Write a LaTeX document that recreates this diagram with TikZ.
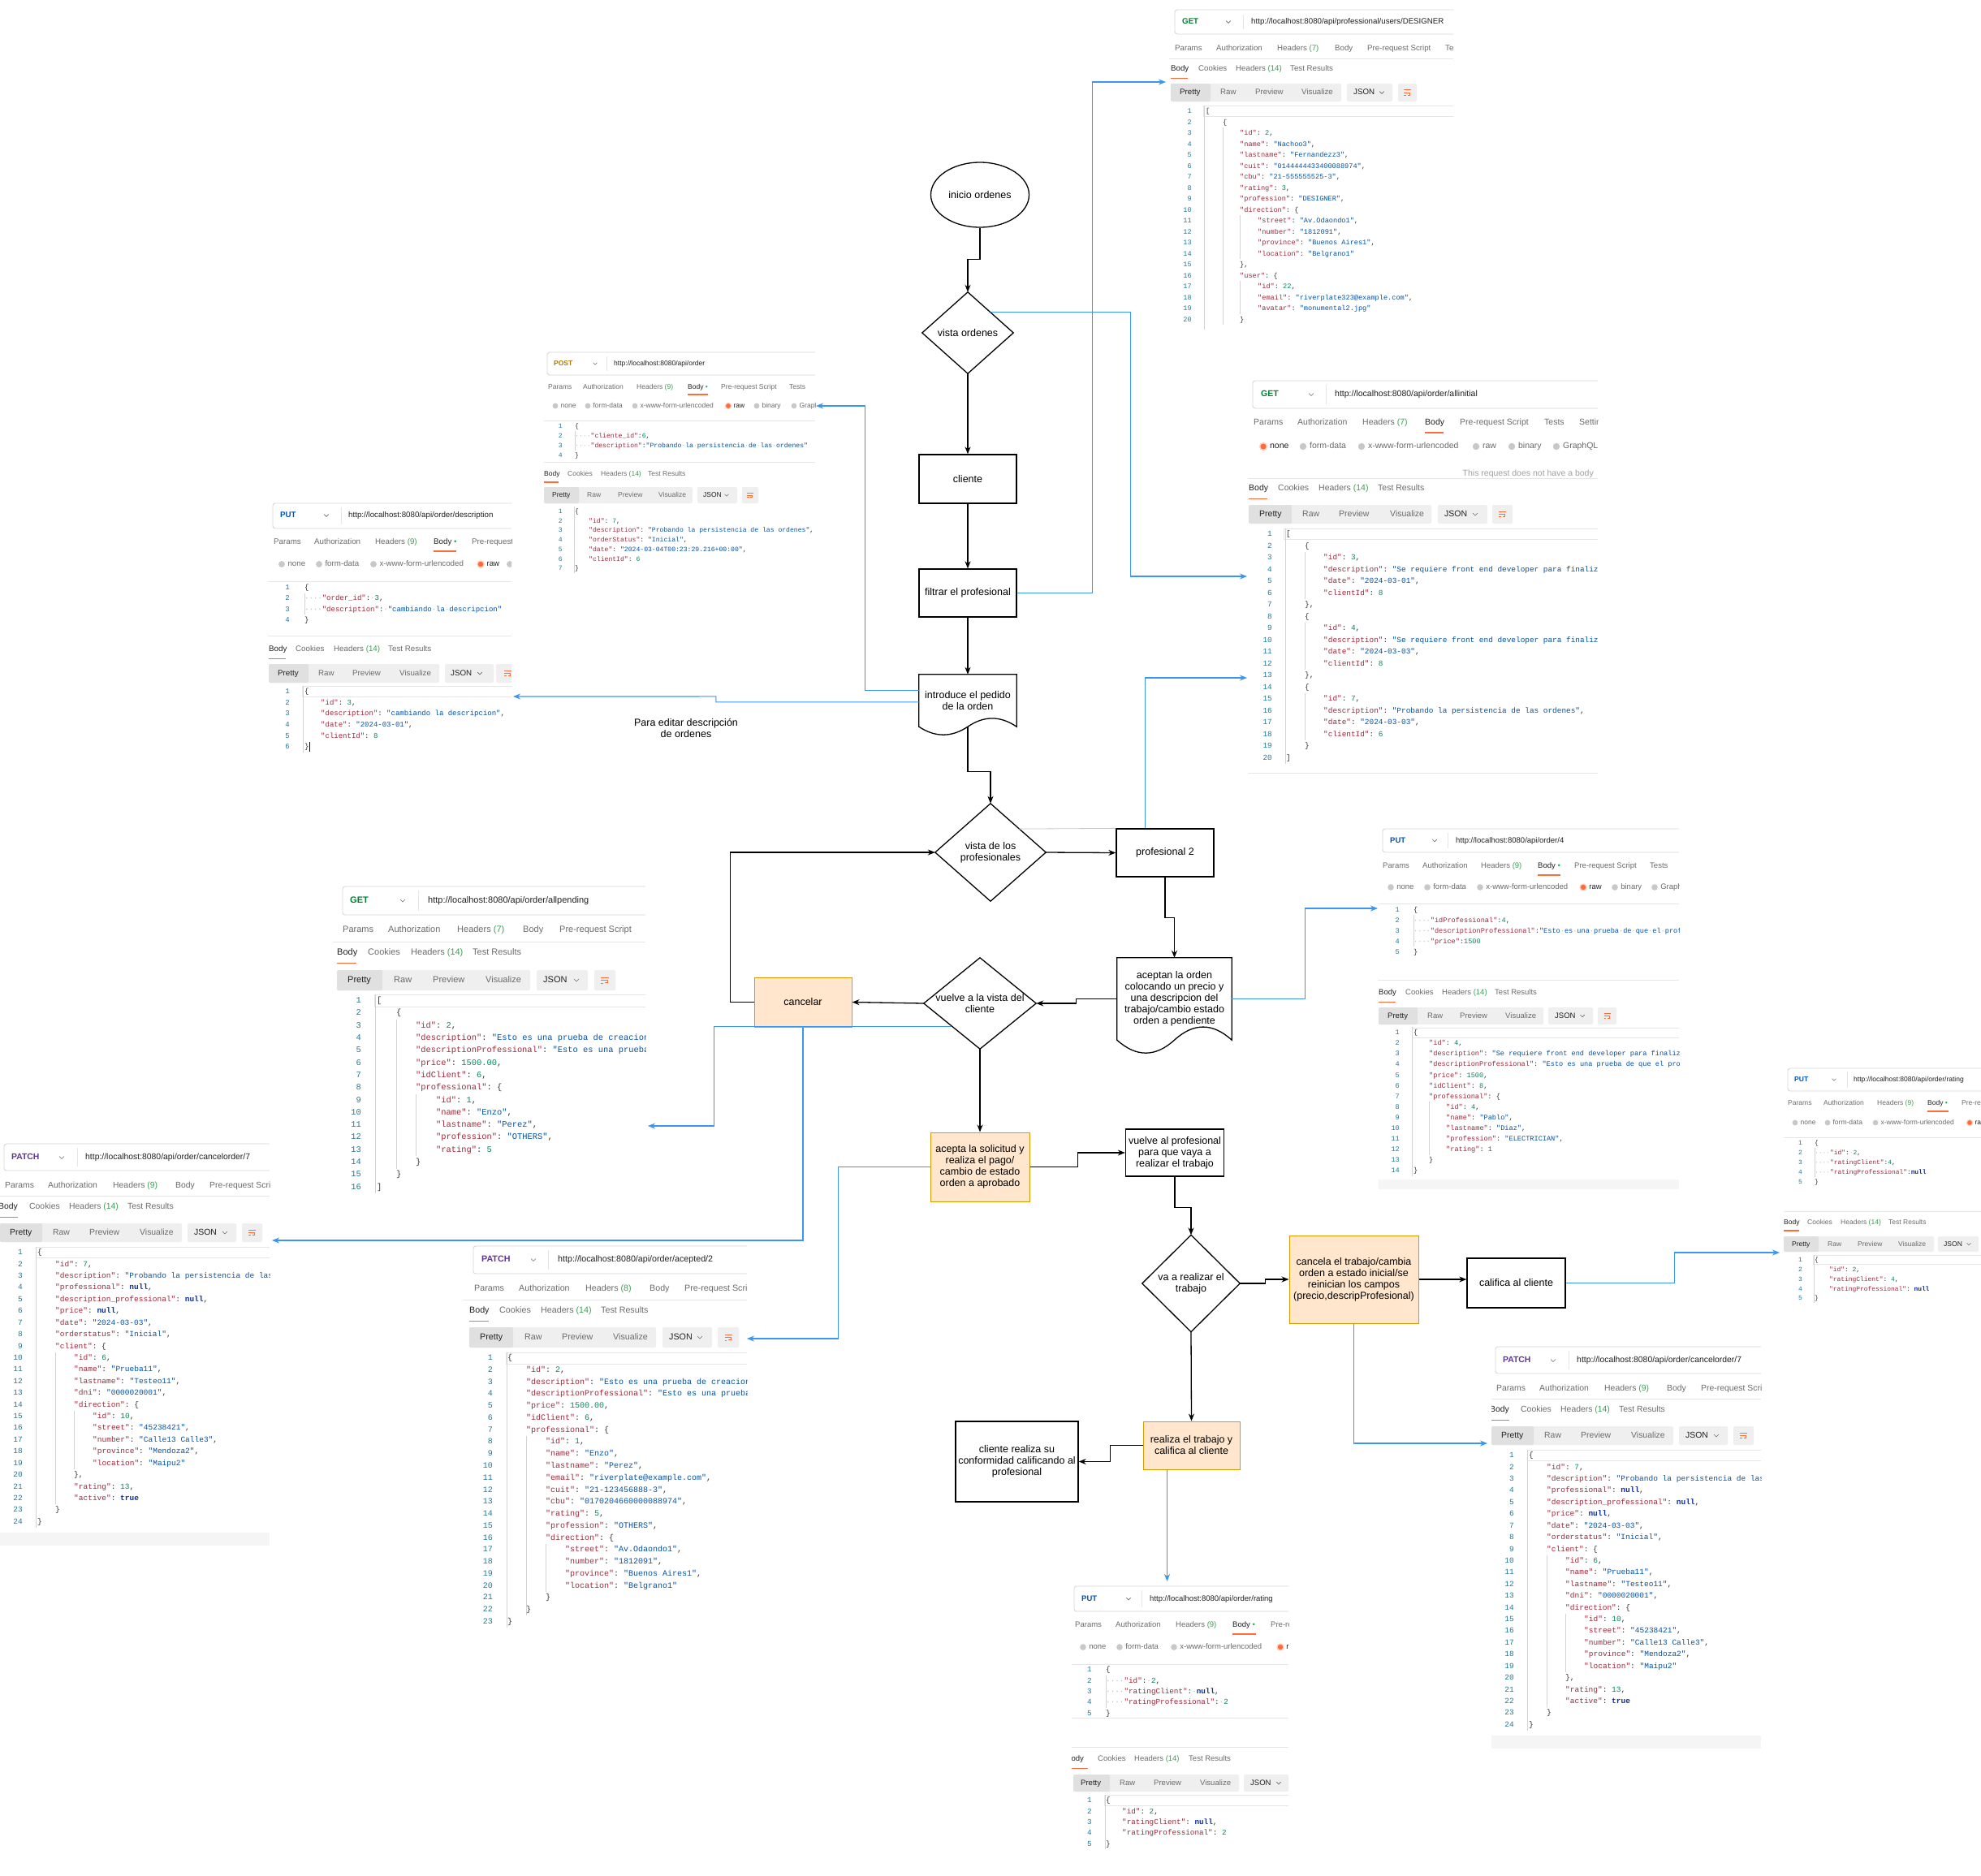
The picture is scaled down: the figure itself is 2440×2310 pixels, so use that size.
\documentclass[tikz,border=0pt]{standalone}
\usepackage{fontspec}
\setmainfont{Liberation Sans}
\setmonofont{Liberation Mono}
\usetikzlibrary{arrows.meta,calc,shapes.geometric}

% palette
\definecolor{uigray}{HTML}{6B6B6B}
\definecolor{uidark}{HTML}{212121}
\definecolor{uilight}{HTML}{A0A0A0}
\definecolor{orangec}{HTML}{FF6C37}
\definecolor{getc}{HTML}{007F31}
\definecolor{postc}{HTML}{AD7A03}
\definecolor{putc}{HTML}{0053B8}
\definecolor{patchc}{HTML}{623497}
\definecolor{ckey}{HTML}{9C2A3C}
\definecolor{cstr}{HTML}{0451A5}
\definecolor{cnum}{HTML}{098658}
\definecolor{cbool}{HTML}{0F2E9C}
\definecolor{lncol}{HTML}{237893}
\definecolor{cpunct}{HTML}{333333}
\definecolor{cdot}{HTML}{B8B8B8}
\definecolor{hcount}{HTML}{3E9E57}
\definecolor{bdotc}{HTML}{0CBB52}
\definecolor{tbbg}{HTML}{EFEFEF}
\definecolor{tbsel}{HTML}{E0E0E0}
\definecolor{urlline}{HTML}{D6D6D6}
\definecolor{sepcol}{HTML}{E6E6E6}
\definecolor{guidec}{HTML}{D3D3D3}
\definecolor{radiog}{HTML}{C8C8C8}
\definecolor{bandc}{HTML}{F5F5F5}
\definecolor{ofill}{HTML}{FFE6CC}
\definecolor{oline}{HTML}{D79B00}
\definecolor{bline}{HTML}{3A96EE}

% fonts used inside the API client panels (sizes set per panel)
\def\US{10}\def\CS{9}
\newcommand\uif{\fontsize{\US}{\US}\selectfont}
\newcommand\uifb{\fontsize{\US}{\US}\selectfont\bfseries}
\newcommand\cdf{\fontsize{\CS}{\CS}\selectfont\ttfamily}
\newcommand\fsz{\fontsize{12.5}{14}\selectfont}

% JSON token colouring
\newcommand\jk[1]{\textcolor{ckey}{"#1"}}
\newcommand\js[1]{\textcolor{cstr}{"#1"}}
\newcommand\jn[1]{\textcolor{cnum}{#1}}
\newcommand\jb[1]{\textcolor{cbool}{\bfseries #1}}
\newcommand\jd{\textcolor{cdot}{·}}
\newcommand\hcnt[1]{\textcolor{hcount}{#1}}
\newcommand\bdot{\textcolor{bdotc}{\textbullet}}

\newcount\txtno
\tikzset{
  autoname/.style={/utils/exec={\global\advance\txtno by 1}, name=tx\the\txtno},
  ui/.style={autoname, font=\uif, text=uigray, anchor=mid west, inner sep=0pt},
  uid/.style={ui, text=uidark},
  lnum/.style={autoname, font=\cdf, text=lncol, anchor=mid east, inner sep=0pt},
  cd/.style={autoname, font=\cdf, text=cpunct, anchor=mid west, inner sep=0pt},
  urlframe/.style={draw=urlline, line width=0.9, rounded corners=3, fill=white},
  sepv/.style={draw=sepcol, line width=0.9},
  sepl/.style={draw=sepcol, line width=0.8},
  orul/.style={draw=orangec, line width=1.1},
  guide/.style={draw=guidec, line width=0.6},
  hlbox/.style={draw=sepcol, line width=0.8},
  chevst/.style={draw=uigray, line width=0.6},
  fl/.style={font=\fsz, align=center, text=black, inner sep=1pt},
  fbox/.style={fl, rectangle, draw=black, line width=1.3},
  obox/.style={fl, rectangle, fill=ofill, draw=oline, line width=1.0},
  ghost/.style={fl, rectangle, draw=none, inner sep=0pt},
  fline/.style={draw=black, line width=1.3},
  farr/.style={draw=black, line width=1.3, -{Stealth[length=9pt,width=7pt]}},
  barr/.style={draw=bline, line width=1.1, -{Stealth[length=9pt,width=7pt]}},
}

% small helpers for the API client panels
\newcommand\chev[2]{\draw[chevst] ({#1-0.28*\US},{#2-0.14*\US}) -- (#1,{#2+0.14*\US}) -- ({#1+0.28*\US},{#2-0.14*\US});}
\newcommand\rad[3]{\fill[radiog] (#1,#2) circle[radius={0.4*\US}]; \node[ui] at ({#1+0.75*\US},#2) {#3};}
\newcommand\radsel[3]{\fill[orangec!30] (#1,#2) circle[radius={0.5*\US}]; \fill[orangec] (#1,#2) circle[radius={0.34*\US}]; \node[uid] at ({#1+0.75*\US},#2) {#3};}
\newcommand\wrapicon[2]{%
  \draw[orangec, line width=0.8] ({#1-0.42*\US},{#2-0.32*\US}) -- ({#1+0.42*\US},{#2-0.32*\US});
  \draw[orangec, line width=0.8] ({#1-0.42*\US},{#2}) -- ({#1+0.3*\US},{#2}) -- ({#1+0.3*\US},{#2+0.3*\US}) -- ({#1},{#2+0.3*\US});
  \draw[orangec, line width=0.8] ({#1-0.42*\US},{#2+0.32*\US}) -- ({#1-0.15*\US},{#2+0.32*\US});}
\newcommand\restabs[6]{%
  \node[uid] at (#2,#1) {Body};
  \node[ui] at (#3,#1) {Cookies};
  \node[ui] at (#4,#1) {Headers \hcnt{(14)}};
  \node[ui] at (#5,#1) {Test Results};
  \draw[orul] (#2,{#1+1.17*\US}) -- (#6,{#1+1.17*\US});}
\newcommand\toolbar[9]{%
  \fill[tbbg, rounded corners=2] (#3,#1) rectangle (#5,#2);
  \fill[tbsel, rounded corners=2] (#3,#1) rectangle (#4,#2);
  \fill[tbbg, rounded corners=2] (#6,#1) rectangle (#7,#2);
  \fill[tbbg, rounded corners=2] (#8,#1) rectangle (#9,#2);
  \wrapicon{(#8+#9)/2}{(#1+#2)/2}}
\newcommand\tbtext[7]{%
  \node[uid] at (#2,#1) {Pretty};
  \node[ui] at (#3,#1) {Raw};
  \node[ui] at (#4,#1) {Preview};
  \node[ui] at (#5,#1) {Visualize};
  \node[uid] at (#6,#1) {JSON};
  \chev{#7}{#1}}
\newcommand\codeln[3]{\node[lnum] at (\NX,{\LY+(#1-1)*\LS}) {#1}; \node[cd] at (#2,{\LY+(#1-1)*\LS}) {#3};}
\newcommand\guideln[3]{\draw[guide] (#1,{\LY+(#2-1.5)*\LS}) -- (#1,{\LY+(#3-0.5)*\LS});}
\newcommand\hlrow[3]{\draw[hlbox] (#2,{\LY+(#1-1.5)*\LS+0.5}) rectangle (#3,{\LY+(#1-0.5)*\LS-0.5});}

% the PATCH cancelorder/7 panel (used twice)
\newcommand\cancelpanel{%
  \def\US{10.4}\def\CS{9.5}
  \clip (0,1405) rectangle (332,1905);
  \draw[urlframe] (5,1409) rectangle (345,1442);
  \node[ui,font=\uifb,text=patchc] at (14,1426) {PATCH};
  \chev{76}{1426}
  \draw[sepv] (95,1414) -- (95,1437);
  \node[uid] at (105,1426) {http://localhost:8080/api/order/cancelorder/7};
  \node[ui] at (6,1461) {Params};
  \node[ui] at (59,1461) {Authorization};
  \node[ui] at (139,1461) {Headers \hcnt{(9)}};
  \node[ui] at (216,1461) {Body};
  \node[ui] at (258,1461) {Pre-request Script};
  \draw[sepl] (0,1473) -- (332,1473);
  \restabs{1487}{-2}{36}{85}{157}{22}
  \toolbar{1507}{1530}{0}{52}{224}{231}{291}{298}{323}
  \tbtext{1518.5}{12}{65}{110}{172}{239}{277}
  \def\NX{28}\def\LY{1543}\def\LS{14.42}
  \def\Xa{46}\def\Xb{68}\def\Xc{91}\def\Xd{114}
  \hlrow{1}{44}{345}
  \guideln{44}{1}{24}
  \guideln{68}{10}{22}
  \guideln{91}{15}{19}
  \codeln{1}{\Xa}{\{}
  \codeln{2}{\Xb}{\jk{id}: \jn{7},}
  \codeln{3}{\Xb}{\jk{description}: \js{Probando la persistencia de las ordenes},}
  \codeln{4}{\Xb}{\jk{professional}: \jb{null},}
  \codeln{5}{\Xb}{\jk{description\_professional}: \jb{null},}
  \codeln{6}{\Xb}{\jk{price}: \jb{null},}
  \codeln{7}{\Xb}{\jk{date}: \js{2024-03-03},}
  \codeln{8}{\Xb}{\jk{orderstatus}: \js{Inicial},}
  \codeln{9}{\Xb}{\jk{client}: \{}
  \codeln{10}{\Xc}{\jk{id}: \jn{6},}
  \codeln{11}{\Xc}{\jk{name}: \js{Prueba11},}
  \codeln{12}{\Xc}{\jk{lastname}: \js{Testeo11},}
  \codeln{13}{\Xc}{\jk{dni}: \js{0000020001},}
  \codeln{14}{\Xc}{\jk{direction}: \{}
  \codeln{15}{\Xd}{\jk{id}: \jn{10},}
  \codeln{16}{\Xd}{\jk{street}: \js{45238421},}
  \codeln{17}{\Xd}{\jk{number}: \js{Calle13 Calle3},}
  \codeln{18}{\Xd}{\jk{province}: \js{Mendoza2},}
  \codeln{19}{\Xd}{\jk{location}: \js{Maipu2}}
  \codeln{20}{\Xc}{\},}
  \codeln{21}{\Xc}{\jk{rating}: \jn{13},}
  \codeln{22}{\Xc}{\jk{active}: \jb{true}}
  \codeln{23}{\Xb}{\}}
  \codeln{24}{\Xa}{\}}
  \fill[bandc] (0,1888) rectangle (332,1904);
}

\begin{document}
\begin{tikzpicture}[x=1pt,y=-1pt]
\useasboundingbox (0,0) rectangle (2440,2310);
\fill[white] (0,0) rectangle (2440,2310);

% ---------- GET professional/users/DESIGNER ----------
\begin{scope}
\def\US{9.7}\def\CS{8.6}
\clip (1440,0) rectangle (1790,405);
\draw[urlframe] (1447,12) rectangle (1800,42);
\node[ui,font=\uifb,text=getc] at (1456,27) {GET};
\chev{1513}{27}
\draw[sepv] (1531,18) -- (1531,36);
\node[uid] at (1541,27) {http://localhost:8080/api/professional/users/DESIGNER};
\node[ui] at (1447,60) {Params};
\node[ui] at (1498,60) {Authorization};
\node[ui] at (1573,60) {Headers \hcnt{(7)}};
\node[ui] at (1644,60) {Body};
\node[ui] at (1684,60) {Pre-request Script};
\node[ui] at (1780,60) {Tests};
\draw[sepl] (1440,72) -- (1790,72);
\restabs{85}{1442}{1476}{1522}{1589}{1463}
\toolbar{103}{125}{1442}{1491}{1652}{1659}{1715}{1722}{1745}
\tbtext{114}{1453}{1503}{1546}{1603}{1667}{1702}
\def\NX{1468}\def\LY{137}\def\LS{13.5}
\def\Xa{1485}\def\Xb{1506}\def\Xc{1527}\def\Xd{1549}
\hlrow{1}{1482}{1800}
\guideln{1483}{1}{21}
\guideln{1506}{3}{20}
\guideln{1527}{11}{14}
\guideln{1527}{17}{19}
\codeln{1}{\Xa}{[}
\codeln{2}{\Xb}{\{}
\codeln{3}{\Xc}{\jk{id}: \jn{2},}
\codeln{4}{\Xc}{\jk{name}: \js{Nachoo3},}
\codeln{5}{\Xc}{\jk{lastname}: \js{Fernandezz3},}
\codeln{6}{\Xc}{\jk{cuit}: \js{0144444433400088974},}
\codeln{7}{\Xc}{\jk{cbu}: \js{21-555555525-3},}
\codeln{8}{\Xc}{\jk{rating}: \jn{3},}
\codeln{9}{\Xc}{\jk{profession}: \js{DESIGNER},}
\codeln{10}{\Xc}{\jk{direction}: \{}
\codeln{11}{\Xd}{\jk{street}: \js{Av.Odaondo1},}
\codeln{12}{\Xd}{\jk{number}: \js{1812091},}
\codeln{13}{\Xd}{\jk{province}: \js{Buenos Aires1},}
\codeln{14}{\Xd}{\jk{location}: \js{Belgrano1}}
\codeln{15}{\Xc}{\},}
\codeln{16}{\Xc}{\jk{user}: \{}
\codeln{17}{\Xd}{\jk{id}: \jn{22},}
\codeln{18}{\Xd}{\jk{email}: \js{riverplate323@example.com},}
\codeln{19}{\Xd}{\jk{avatar}: \js{monumental2.jpg}}
\codeln{20}{\Xc}{\}}
\end{scope}

% ---------- POST order ----------
\begin{scope}
\def\US{8.5}\def\CS{8.1}
\clip (665,430) rectangle (1004,712);
\draw[urlframe] (674,434) rectangle (1012,462);
\node[ui,font=\uifb,text=postc] at (682,448) {POST};
\chev{733}{448}
\draw[sepv] (747,439) -- (747,457);
\node[uid] at (756,448) {http://localhost:8080/api/order};
\node[ui] at (675,477) {Params};
\node[ui] at (718,477) {Authorization};
\node[ui] at (784,477) {Headers \hcnt{(9)}};
\node[uid] at (847,477) {Body \bdot};
\draw[orul] (847,486) -- (872,486);
\node[ui] at (888,477) {Pre-request Script};
\node[ui] at (972,477) {Tests};
\rad{684}{500}{none}
\rad{724}{500}{form-data}
\rad{782}{500}{x-www-form-urlencoded}
\radsel{897}{500}{raw}
\rad{932}{500}{binary}
\rad{978}{500}{GraphQL}
\draw[sepl] (670,518) -- (1004,518);
\def\NX{693}\def\LY{525}\def\LS{11.9}\def\Xa{708}\def\Xb{725}
\guideln{708}{2}{3}
\codeln{1}{\Xa}{\{}
\codeln{2}{\Xa}{\jd\jd\jd\jd\jk{cliente\_id}:\jn{6},}
\codeln{3}{\Xa}{\jd\jd\jd\jd\jk{description}:\js{Probando\jd la\jd persistencia\jd de\jd las\jd ordenes}}
\codeln{4}{\Xa}{\}}
\draw[sepl] (670,569) -- (1004,569);
\restabs{584}{670}{699}{740}{798}{688}
\toolbar{600}{620}{670}{713}{853}{859}{908}{914}{934}
\tbtext{610}{680}{723}{761}{811}{866}{895}
\def\LY{630}\def\LS{11.67}
\guideln{707}{1}{7}
\codeln{1}{\Xa}{\{}
\codeln{2}{\Xb}{\jk{id}: \jn{7},}
\codeln{3}{\Xb}{\jk{description}: \js{Probando la persistencia de las ordenes},}
\codeln{4}{\Xb}{\jk{orderStatus}: \js{Inicial},}
\codeln{5}{\Xb}{\jk{date}: \js{2024-03-04T00:23:29.216+00:00},}
\codeln{6}{\Xb}{\jk{clientId}: \jn{6}}
\codeln{7}{\Xa}{\}}
\end{scope}

% ---------- PUT order/description ----------
\begin{scope}
\def\US{9.75}\def\CS{9.0}
\clip (325,610) rectangle (630,930);
\draw[urlframe] (336,620) rectangle (640,651);
\node[ui,font=\uifb,text=putc] at (345,635) {PUT};
\chev{402}{635}
\draw[sepv] (420,625) -- (420,646);
\node[uid] at (429,635) {http://localhost:8080/api/order/description};
\node[ui] at (337,668) {Params};
\node[ui] at (387,668) {Authorization};
\node[ui] at (462,668) {Headers \hcnt{(9)}};
\node[uid] at (534,668) {Body \bdot};
\draw[orul] (534,679) -- (562,679);
\node[ui] at (581,668) {Pre-request Script};
\rad{347}{695}{none}
\rad{393}{695}{form-data}
\rad{460}{695}{x-www-form-urlencoded}
\radsel{592}{695}{raw}
\rad{628}{695}{binary}
\draw[sepl] (330,716) -- (630,716);
\def\NX{357}\def\LY{724}\def\LS{13.3}\def\Xa{375}\def\Xb{395}
\guideln{375}{2}{3}
\codeln{1}{\Xa}{\{}
\codeln{2}{\Xa}{\jd\jd\jd\jd\jk{order\_id}:\jd\jn{3},}
\codeln{3}{\Xa}{\jd\jd\jd\jd\jk{description}:\jd\js{cambiando\jd la\jd descripcion}}
\codeln{4}{\Xa}{\}}
\draw[sepl] (330,783) -- (630,783);
\restabs{800}{331}{364}{411}{478}{352}
\toolbar{818}{841}{331}{380}{541}{548}{608}{611}{640}
\tbtext{829.5}{342}{392}{434}{492}{555}{591}
\def\LY{852}\def\LS{13.6}
\hlrow{1}{372}{640}
\guideln{373}{1}{6}
\codeln{1}{\Xa}{\{}
\codeln{2}{\Xb}{\jk{id}: \jn{3},}
\codeln{3}{\Xb}{\jk{description}: \js{cambiando la descripcion},}
\codeln{4}{\Xb}{\jk{date}: \js{2024-03-01},}
\codeln{5}{\Xb}{\jk{clientId}: \jn{8}}
\codeln{6}{\Xa}{\}}
\draw[black, line width=0.8] (381,914) -- (381,926);
\end{scope}

% ---------- GET order/allinitial ----------
\begin{scope}
\def\US{10.5}\def\CS{9.4}
\clip (1530,460) rectangle (1968,965);
\draw[urlframe] (1543,469) rectangle (1980,503);
\node[ui,font=\uifb,text=getc] at (1553,486) {GET};
\chev{1615}{486}
\draw[sepv] (1633,474) -- (1633,498);
\node[uid] at (1644,486) {http://localhost:8080/api/order/allinitial};
\node[ui] at (1544,521) {Params};
\node[ui] at (1598,521) {Authorization};
\node[ui] at (1678,521) {Headers \hcnt{(7)}};
\node[uid] at (1755,521) {Body};
\draw[orul] (1755,533) -- (1778,533);
\node[ui] at (1798,521) {Pre-request Script};
\node[ui] at (1902,521) {Tests};
\node[ui] at (1945,521) {Settings};
\radsel{1556}{550}{none}
\rad{1605}{550}{form-data}
\rad{1677}{550}{x-www-form-urlencoded}
\rad{1818}{550}{raw}
\rad{1862}{550}{binary}
\rad{1917}{550}{GraphQL}
\node[ui, anchor=mid east, text=uilight] at (1963,584) {This request does not have a body};
\draw[sepl] (1537,589) -- (1968,589);
\restabs{602}{1538}{1574}{1624}{1697}{1561}
\toolbar{622}{645}{1538}{1591}{1763}{1771}{1832}{1838}{1863}
\tbtext{633.5}{1551}{1604}{1649}{1712}{1779}{1817}
\def\NX{1567}\def\LY{658}\def\LS{14.5}
\def\Xa{1584}\def\Xb{1607}\def\Xc{1630}
\hlrow{1}{1581}{1980}
\guideln{1583}{1}{20}
\guideln{1607}{3}{6}
\guideln{1607}{9}{12}
\guideln{1607}{15}{18}
\codeln{1}{\Xa}{[}
\codeln{2}{\Xb}{\{}
\codeln{3}{\Xc}{\jk{id}: \jn{3},}
\codeln{4}{\Xc}{\jk{description}: \js{Se requiere front end developer para finalizar},}
\codeln{5}{\Xc}{\jk{date}: \js{2024-03-01},}
\codeln{6}{\Xc}{\jk{clientId}: \jn{8}}
\codeln{7}{\Xb}{\},}
\codeln{8}{\Xb}{\{}
\codeln{9}{\Xc}{\jk{id}: \jn{4},}
\codeln{10}{\Xc}{\jk{description}: \js{Se requiere front end developer para finalizar},}
\codeln{11}{\Xc}{\jk{date}: \js{2024-03-03},}
\codeln{12}{\Xc}{\jk{clientId}: \jn{8}}
\codeln{13}{\Xb}{\},}
\codeln{14}{\Xb}{\{}
\codeln{15}{\Xc}{\jk{id}: \jn{7},}
\codeln{16}{\Xc}{\jk{description}: \js{Probando la persistencia de las ordenes},}
\codeln{17}{\Xc}{\jk{date}: \js{2024-03-03},}
\codeln{18}{\Xc}{\jk{clientId}: \jn{6}}
\codeln{19}{\Xb}{\}}
\codeln{20}{\Xa}{]}
\draw[sepl] (1537,952) -- (1968,952);
\end{scope}

% ---------- GET order/allpending ----------
\begin{scope}
\def\US{11}\def\CS{10.4}
\clip (410,1085) rectangle (795,1475);
\draw[urlframe] (422,1092) rectangle (805,1127);
\node[ui,font=\uifb,text=getc] at (431,1109.5) {GET};
\chev{496}{1109.5}
\draw[sepv] (515,1097) -- (515,1122);
\node[uid] at (527,1109.5) {http://localhost:8080/api/order/allpending};
\node[ui] at (422,1146) {Params};
\node[ui] at (478,1146) {Authorization};
\node[ui] at (563,1146) {Headers \hcnt{(7)}};
\node[ui] at (644,1146) {Body};
\node[ui] at (689,1146) {Pre-request Script};
\draw[sepl] (410,1160) -- (795,1160);
\restabs{1174}{415}{453}{506}{582}{439}
\toolbar{1195}{1220}{415}{471}{653}{661}{724}{732}{758}
\tbtext{1207.5}{428}{485}{533}{598}{669}{710}
\def\NX{445}\def\LY{1233}\def\LS{15.3}
\def\Xa{464}\def\Xb{488}\def\Xc{512}\def\Xd{537}
\hlrow{1}{461}{800}
\guideln{462}{1}{16}
\guideln{488}{3}{14}
\guideln{512}{9}{13}
\codeln{1}{\Xa}{[}
\codeln{2}{\Xb}{\{}
\codeln{3}{\Xc}{\jk{id}: \jn{2},}
\codeln{4}{\Xc}{\jk{description}: \js{Esto es una prueba de creacion de orden},}
\codeln{5}{\Xc}{\jk{descriptionProfessional}: \js{Esto es una prueba de que el profesional},}
\codeln{6}{\Xc}{\jk{price}: \jn{1500.00},}
\codeln{7}{\Xc}{\jk{idClient}: \jn{6},}
\codeln{8}{\Xc}{\jk{professional}: \{}
\codeln{9}{\Xd}{\jk{id}: \jn{1},}
\codeln{10}{\Xd}{\jk{name}: \js{Enzo},}
\codeln{11}{\Xd}{\jk{lastname}: \js{Perez},}
\codeln{12}{\Xd}{\jk{profession}: \js{OTHERS},}
\codeln{13}{\Xd}{\jk{rating}: \jn{5}}
\codeln{14}{\Xc}{\}}
\codeln{15}{\Xb}{\}}
\codeln{16}{\Xa}{]}
\end{scope}

% ---------- PUT order/4 ----------
\begin{scope}
\def\US{9.5}\def\CS{8.6}
\clip (1690,1015) rectangle (2068,1468);
\draw[urlframe] (1703,1021) rectangle (2080,1050);
\node[ui,font=\uifb,text=putc] at (1712,1035.5) {PUT};
\chev{1767}{1035.5}
\draw[sepv] (1783,1026) -- (1783,1045);
\node[uid] at (1793,1035.5) {http://localhost:8080/api/order/4};
\node[ui] at (1703,1067) {Params};
\node[ui] at (1752,1067) {Authorization};
\node[ui] at (1824,1067) {Headers \hcnt{(9)}};
\node[uid] at (1894,1067) {Body \bdot};
\draw[orul] (1894,1078) -- (1922,1078);
\node[ui] at (1939,1067) {Pre-request Script};
\node[ui] at (2032,1067) {Tests};
\rad{1713}{1093}{none}
\rad{1758}{1093}{form-data}
\rad{1823}{1093}{x-www-form-urlencoded}
\radsel{1950}{1093}{raw}
\rad{1989}{1093}{binary}
\rad{2038}{1093}{GraphQL}
\draw[sepl] (1697,1113) -- (2068,1113);
\def\NX{1724}\def\LY{1121}\def\LS{12.9}
\def\Xa{1741}\def\Xb{1760}\def\Xc{1781}
\guideln{1741}{2}{4}
\codeln{1}{\Xa}{\{}
\codeln{2}{\Xa}{\jd\jd\jd\jd\jk{idProfessional}:\jn{4},}
\codeln{3}{\Xa}{\jd\jd\jd\jd\jk{descriptionProfessional}:\js{Esto\jd es\jd una\jd prueba\jd de\jd que\jd el\jd profesional}}
\codeln{4}{\Xa}{\jd\jd\jd\jd\jk{price}:\jn{1500}}
\codeln{5}{\Xa}{\}}
\draw[sepl] (1697,1207) -- (2068,1207);
\restabs{1223}{1698}{1731}{1776}{1841}{1719}
\toolbar{1241}{1262}{1698}{1746}{1901}{1907}{1962}{1968}{1991}
\tbtext{1251.5}{1709}{1758}{1798}{1854}{1915}{1949}
\def\LY{1272}\def\LS{13.1}
\hlrow{1}{1739}{2080}
\guideln{1739}{1}{14}
\guideln{1760}{8}{12}
\codeln{1}{\Xa}{\{}
\codeln{2}{\Xb}{\jk{id}: \jn{4},}
\codeln{3}{\Xb}{\jk{description}: \js{Se requiere front end developer para finalizar},}
\codeln{4}{\Xb}{\jk{descriptionProfessional}: \js{Esto es una prueba de que el profesional},}
\codeln{5}{\Xb}{\jk{price}: \jn{1500},}
\codeln{6}{\Xb}{\jk{idClient}: \jn{8},}
\codeln{7}{\Xb}{\jk{professional}: \{}
\codeln{8}{\Xc}{\jk{id}: \jn{4},}
\codeln{9}{\Xc}{\jk{name}: \js{Pablo},}
\codeln{10}{\Xc}{\jk{lastname}: \js{Diaz},}
\codeln{11}{\Xc}{\jk{profession}: \js{ELECTRICIAN},}
\codeln{12}{\Xc}{\jk{rating}: \jn{1}}
\codeln{13}{\Xb}{\}}
\codeln{14}{\Xa}{\}}
\fill[bandc] (1698,1453) rectangle (2068,1465);
\end{scope}

% ---------- PATCH cancelorder/7 (left and right copies) ----------
\begin{scope}
\cancelpanel
\end{scope}
\begin{scope}[shift={(1837,250)}]
\cancelpanel
\end{scope}

% ---------- PATCH order/acepted/2 ----------
\begin{scope}
\def\US{10.7}\def\CS{10.0}
\clip (570,1530) rectangle (920,2010);
\draw[urlframe] (583,1535) rectangle (930,1569);
\node[ui,font=\uifb,text=patchc] at (593,1552) {PATCH};
\chev{657}{1552}
\draw[sepv] (675,1540) -- (675,1564);
\node[uid] at (687,1552) {http://localhost:8080/api/order/acepted/2};
\node[ui] at (584,1588) {Params};
\node[ui] at (639,1588) {Authorization};
\node[ui] at (721,1588) {Headers \hcnt{(8)}};
\node[ui] at (800,1588) {Body};
\node[ui] at (843,1588) {Pre-request Script};
\draw[sepl] (570,1601) -- (920,1601);
\restabs{1615}{578}{615}{666}{740}{602}
\toolbar{1635}{1660}{578}{632}{808}{816}{877}{884}{910}
\tbtext{1647.5}{591}{646}{692}{755}{824}{862}
\def\NX{607}\def\LY{1673}\def\LS{14.76}
\def\Xa{625}\def\Xb{648}\def\Xc{672}\def\Xd{696}
\hlrow{1}{623}{930}
\guideln{624}{1}{23}
\guideln{648}{8}{22}
\guideln{672}{17}{20}
\codeln{1}{\Xa}{\{}
\codeln{2}{\Xb}{\jk{id}: \jn{2},}
\codeln{3}{\Xb}{\jk{description}: \js{Esto es una prueba de creacion de orden},}
\codeln{4}{\Xb}{\jk{descriptionProfessional}: \js{Esto es una prueba de que el profesional},}
\codeln{5}{\Xb}{\jk{price}: \jn{1500.00},}
\codeln{6}{\Xb}{\jk{idClient}: \jn{6},}
\codeln{7}{\Xb}{\jk{professional}: \{}
\codeln{8}{\Xc}{\jk{id}: \jn{1},}
\codeln{9}{\Xc}{\jk{name}: \js{Enzo},}
\codeln{10}{\Xc}{\jk{lastname}: \js{Perez},}
\codeln{11}{\Xc}{\jk{email}: \js{riverplate@example.com},}
\codeln{12}{\Xc}{\jk{cuit}: \js{21-123456888-3},}
\codeln{13}{\Xc}{\jk{cbu}: \js{0170204660000088974},}
\codeln{14}{\Xc}{\jk{rating}: \jn{5},}
\codeln{15}{\Xc}{\jk{profession}: \js{OTHERS},}
\codeln{16}{\Xc}{\jk{direction}: \{}
\codeln{17}{\Xd}{\jk{street}: \js{Av.Odaondo1},}
\codeln{18}{\Xd}{\jk{number}: \js{1812091},}
\codeln{19}{\Xd}{\jk{province}: \js{Buenos Aires1},}
\codeln{20}{\Xd}{\jk{location}: \js{Belgrano1}}
\codeln{21}{\Xc}{\}}
\codeln{22}{\Xb}{\}}
\codeln{23}{\Xa}{\}}
\end{scope}

% ---------- PUT order/rating (right) ----------
\begin{scope}
\def\US{8.5}\def\CS{7.9}
\clip (2190,1310) rectangle (2440,1612);
\draw[urlframe] (2202,1316) rectangle (2450,1344);
\node[ui,font=\uifb,text=putc] at (2210,1330) {PUT};
\chev{2259}{1330}
\draw[sepv] (2275,1320) -- (2275,1340);
\node[uid] at (2283,1330) {http://localhost:8080/api/order/rating};
\node[ui] at (2202,1359) {Params};
\node[ui] at (2246,1359) {Authorization};
\node[ui] at (2312,1359) {Headers \hcnt{(9)}};
\node[uid] at (2374,1359) {Body \bdot};
\draw[orul] (2374,1369) -- (2400,1369);
\node[ui] at (2416,1359) {Pre-request Script};
\rad{2211}{1383}{none}
\rad{2251}{1383}{form-data}
\rad{2310}{1383}{x-www-form-urlencoded}
\radsel{2426}{1383}{raw}
\draw[sepl] (2197,1401) -- (2440,1401);
\def\NX{2220}\def\LY{1408}\def\LS{11.9}\def\Xa{2235}\def\Xb{2253}
\guideln{2235}{2}{4}
\codeln{1}{\Xa}{\{}
\codeln{2}{\Xa}{\jd\jd\jd\jd\jk{id}:\jd\jn{2},}
\codeln{3}{\Xa}{\jd\jd\jd\jd\jk{ratingClient}:\jn{4},}
\codeln{4}{\Xa}{\jd\jd\jd\jd\jk{ratingProfessional}:\jb{null}}
\codeln{5}{\Xa}{\}}
\draw[sepl] (2197,1492) -- (2440,1492);
\restabs{1506}{2197}{2226}{2267}{2326}{2216}
\toolbar{1523}{1542}{2197}{2240}{2382}{2387}{2437}{2445}{2460}
\tbtext{1532.5}{2207}{2251}{2288}{2338}{2394}{2425}
\def\LY{1552}\def\LS{11.8}
\hlrow{1}{2233}{2450}
\guideln{2234}{1}{5}
\codeln{1}{\Xa}{\{}
\codeln{2}{\Xb}{\jk{id}: \jn{2},}
\codeln{3}{\Xb}{\jk{ratingClient}: \jn{4},}
\codeln{4}{\Xb}{\jk{ratingProfessional}: \jb{null}}
\codeln{5}{\Xa}{\}}
\end{scope}

% ---------- PUT order/rating (bottom) ----------
\begin{scope}
\def\US{9.5}\def\CS{9.3}
\clip (1320,1950) rectangle (1587,2285);
\draw[urlframe] (1323,1954) rectangle (1600,1985);
\node[ui,font=\uifb,text=putc] at (1332,1969.5) {PUT};
\chev{1390}{1969.5}
\draw[sepv] (1406,1959) -- (1406,1980);
\node[uid] at (1416,1969.5) {http://localhost:8080/api/order/rating};
\node[ui] at (1324,2002) {Params};
\node[ui] at (1374,2002) {Authorization};
\node[ui] at (1448,2002) {Headers \hcnt{(9)}};
\node[uid] at (1518,2002) {Body \bdot};
\draw[orul] (1518,2013) -- (1547,2013);
\node[ui] at (1565,2002) {Pre-request Script};
\rad{1334}{2029}{none}
\rad{1379}{2029}{form-data}
\rad{1446}{2029}{x-www-form-urlencoded}
\radsel{1577}{2029}{raw}
\draw[sepl] (1320,2050) -- (1587,2050);
\def\NX{1345}\def\LY{2057}\def\LS{13.4}\def\Xa{1362}\def\Xb{1382}
\guideln{1362}{2}{4}
\codeln{1}{\Xa}{\{}
\codeln{2}{\Xa}{\jd\jd\jd\jd\jk{id}:\jd\jn{2},}
\codeln{3}{\Xa}{\jd\jd\jd\jd\jk{ratingClient}:\jd\jb{null},}
\codeln{4}{\Xa}{\jd\jd\jd\jd\jk{ratingProfessional}:\jd\jn{2}}
\codeln{5}{\Xa}{\}}
\draw[sepl] (1320,2116) -- (1587,2116);
\draw[sepl] (1320,2152) -- (1587,2152);
\restabs{2167}{1313}{1352}{1397}{1464}{1340}
\toolbar{2186}{2207}{1322}{1367}{1526}{1532}{1587}{1595}{1610}
\tbtext{2196.5}{1331}{1379}{1421}{1478}{1540}{1575}
\def\LY{2218}\def\LS{13.4}
\hlrow{1}{1360}{1600}
\guideln{1361}{1}{5}
\codeln{1}{\Xa}{\{}
\codeln{2}{\Xb}{\jk{id}: \jn{2},}
\codeln{3}{\Xb}{\jk{ratingClient}: \jb{null},}
\codeln{4}{\Xb}{\jk{ratingProfessional}: \jn{2}}
\codeln{5}{\Xa}{\}}
\end{scope}

% ================= flowchart =================
\node[fl, ellipse, draw=black, line width=1.3, minimum width=121, minimum height=80, inner sep=0pt] (ini) at (1207,240) {inicio ordenes};
\node[ghost, minimum width=112, minimum height=100] (vo) at (1192,410) {vista ordenes};
\draw[fline] (vo.north) -- (vo.east) -- (vo.south) -- (vo.west) -- cycle;
\node[fbox, minimum width=120, minimum height=60] (cli) at (1192,590) {cliente};
\node[fbox, minimum width=120, minimum height=59] (fil) at (1192,730.5) {filtrar el profesional};
\node[ghost, minimum width=120, minimum height=64] (intro) at (1192,863) {introduce el pedido\\de la orden};
\draw[fline] (intro.north west) -- (intro.north east) -- (intro.south east)
  .. controls (1232,881.5) and (1212,881.5) .. (intro.south)
  .. controls (1172,908.5) and (1152,908.5) .. (intro.south west) -- cycle;
\node[ghost, minimum width=136, minimum height=120] (vp) at (1220,1050) {vista de los\\profesionales};
\draw[fline] (vp.north) -- (vp.east) -- (vp.south) -- (vp.west) -- cycle;
\node[fbox, minimum width=120, minimum height=59] (p2) at (1435,1050.5) {profesional 2};
\node[ghost, minimum width=141, minimum height=101] (acp) at (1446.5,1230.5) {aceptan la orden\\colocando un precio y\\una descripcion del\\trabajo/cambio estado\\orden a pendiente};
\draw[fline] (acp.north west) -- (acp.north east) -- (acp.south east)
  .. controls (1493.5,1259.7) and (1470,1259.7) .. (acp.south)
  .. controls (1423,1302.5) and (1399.5,1302.5) .. (acp.south west) -- cycle;
\node[ghost, minimum width=138, minimum height=112] (vc) at (1207,1236) {vuelve a la vista del\\cliente};
\draw[fline] (vc.north) -- (vc.east) -- (vc.south) -- (vc.west) -- cycle;
\node[obox, minimum width=120, minimum height=61] (can) at (989,1234.5) {cancelar};
\node[obox, minimum width=122, minimum height=85] (aps) at (1207,1437.5) {acepta la solicitud y\\realiza el pago/\\cambio de estado\\orden a aprobado};
\node[fbox, minimum width=121, minimum height=58] (vap) at (1447,1420) {vuelve al profesional\\para que vaya a\\realizar el trabajo};
\node[ghost, minimum width=120, minimum height=119] (var) at (1467,1581) {va a realizar el\\trabajo};
\draw[fline] (var.north) -- (var.east) -- (var.south) -- (var.west) -- cycle;
\node[obox, minimum width=159, minimum height=108] (canc) at (1667.5,1576) {cancela el trabajo/cambia\\orden a estado inicial/se\\reinician los campos\\(precio,descripProfesional)};
\node[fbox, minimum width=121, minimum height=61] (cal) at (1867.5,1580.5) {califica al cliente};
\node[obox, minimum width=119, minimum height=59] (rea) at (1467.5,1780.5) {realiza el trabajo y\\califica al cliente};
\node[fbox, minimum width=151, minimum height=99] (crs) at (1252.5,1800.5) {cliente realiza su\\conformidad calificando al\\profesional};
\node[fl] (lbl) at (845,897) {Para editar descripción\\de ordenes};

% black flow connectors
\draw[farr] (ini.south) -- ++(0,39) -| (vo.north);
\draw[farr] (vo.south) -- (cli.north);
\draw[farr] (cli.south) -- (fil.north);
\draw[farr] (fil.south) -- (intro.north);
\draw[farr] (intro.south) -- ++(0,55) -| (vp.north);
\draw[farr] (vp.east) -- (p2.west);
\draw[farr] (p2.south) -- ++(0,50) -| (acp.north);
\draw[farr] (acp.west) -- ++(-50,0) |- (vc.east);
\draw[farr] (vc.west) -- (can.east);
\draw[farr] (can.west) -- ++(-29,0) |- (vp.west);
\draw[farr] (vc.south) -- (aps.north);
\draw[farr] (aps.east) -- ++(59,0) |- (vap.west);
\draw[farr] (vap.south) -- ++(0,38) -| (var.north);
\draw[farr] (var.east) -- ++(31,0) |- (canc.west);
\draw[farr] (canc.east) -- (canc.east -| cal.west);
\draw[farr] (var.south) -- (rea.north);
\draw[farr] (rea.west) -- ++(-40,0) |- (crs.east);
\draw[draw=gray!45, line width=0.8] ($(vp.north)!0.52!(vp.east)$) -- (p2.north west);

% blue connectors to the API calls
\coordinate (eA) at (1436,101);
\coordinate (eD1) at (1536,710);
\coordinate (eD2) at (1536,835);
\coordinate (eF) at (1697,1119);
\coordinate (eB) at (1005,500);
\coordinate (eC) at (632,858);
\coordinate (eE) at (798,1387);
\coordinate (eG) at (335,1528);
\coordinate (eH) at (920,1649);
\coordinate (eJ) at (1832,1778);
\coordinate (eI) at (2192,1543);
\coordinate (eK) at (1438,1948);
\coordinate (voE) at ($(vo.north)!0.5!(vo.east)$);
\coordinate (p2T) at ($(p2.north west)!0.3!(p2.north east)$);
\coordinate (inA) at ($(intro.north west)!0.3!(intro.south west)$);
\coordinate (inB) at ($(intro.north west)!0.53!(intro.south west)$);
\coordinate (vcL) at ($(vc.west)!0.5!(vc.south)$);
\coordinate (reB) at ($(rea.south west)!0.25!(rea.south east)$);
\draw[barr] (fil.east) -- ++(93,0) |- (eA);
\draw[barr] (voE) -- ++(172,0) |- (eD1);
\draw[barr] (p2T) |- (eD2);
\draw[barr] (acp.east) -- ++(90,0) |- (eF);
\draw[barr] (inA) -- ++(-66,0) |- (eB);
\draw[barr] (inB) -- ++(-250,0) -- ++(0,-7) -- (eC);
\draw[barr] (vcL) -- ++(-293,0) |- (eE);
\draw[barr] (can.south) |- (eG);
\draw[barr] (aps.west) -- ++(-113,0) |- (eH);
\draw[barr] (canc.south) |- (eJ);
\draw[barr] (cal.east) -- ++(134,0) |- (eI);
\draw[barr] (reB) -- (reB |- eK);
\end{tikzpicture}
\end{document}
